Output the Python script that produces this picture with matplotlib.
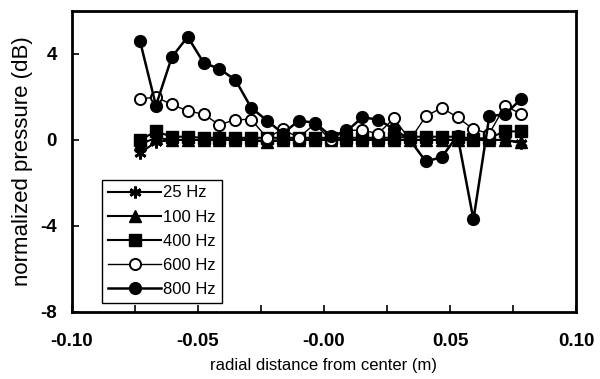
import matplotlib
matplotlib.use("Agg")
import matplotlib.pyplot as plt
import numpy as np

plt.rcParams['font.family'] = ['Liberation Sans', 'DejaVu Sans']

# radial positions (m)
x = [-0.073 + 0.0063 * k for k in range(25)]

hz25 = [-0.6, -0.1, 0.0, 0.0, 0.0, 0.0, 0.0, 0.0, -0.05, 0.0, 0.0, 0.0, 0.0,
        0.0, 0.0, 0.0, 0.0, 0.0, 0.0, 0.0, 0.0, 0.0, 0.0, 0.0, -0.15]
hz100 = [-0.2, 0.1, 0.0, 0.0, 0.0, 0.0, 0.0, 0.0, -0.1, 0.0, 0.0, 0.0, 0.0,
         0.0, 0.0, 0.0, 0.0, 0.0, 0.0, 0.0, 0.0, 0.0, 0.0, 0.0, -0.1]
hz400 = [0.0, 0.4, 0.15, 0.15, 0.1, 0.1, 0.1, 0.1, 0.1, 0.1, 0.1, 0.1, 0.1,
         0.1, 0.1, 0.1, 0.1, 0.15, 0.15, 0.15, 0.15, 0.05, 0.1, 0.4, 0.4]
hz600 = [1.9, 2.0, 1.65, 1.35, 1.2, 0.7, 0.95, 0.95, 0.1, 0.5, 0.1, 0.75, 0.0,
         0.45, 0.45, 0.3, 1.0, 0.0, 1.1, 1.5, 1.05, 0.5, 0.3, 1.6, 1.2]
hz800 = [4.6, 1.6, 3.85, 4.8, 3.6, 3.3, 2.8, 1.5, 0.9, 0.3, 0.9, 0.8, 0.2,
         0.4, 1.05, 0.95, 0.5, 0.0, -1.0, -0.8, 0.2, -3.7, 1.1, 1.2, 1.9]

labels = ['25 Hz', '100 Hz', '400 Hz', '600 Hz', '800 Hz']

fig = plt.figure(figsize=(6.0, 3.79), dpi=100)
ax = fig.add_axes([0.12, 0.177, 0.84, 0.794])

ax.plot(x, hz25, color='black', lw=1.5, marker=(6, 2, 0), ms=8.5, mew=2, label=labels[0])
ax.plot(x, hz100, color='black', lw=1.5, marker='^', ms=8.5, label=labels[1])
ax.plot(x, hz400, color='black', lw=1.5, marker='s', ms=8, label=labels[2])
ax.plot(x, hz600, color='black', lw=1.0, marker='o', ms=8, mfc='white', mew=1.4, label=labels[3])
ax.plot(x, hz800, color='black', lw=1.8, marker='o', ms=8.5, label=labels[4])

ax.set_xlim(-0.10, 0.10)
ax.set_ylim(-8, 6)
xt = np.arange(-0.10, 0.1001, 0.025)
ax.set_xticks(xt)
ax.set_xticklabels([f'{v:.2f}' if abs(round(v / 0.05) * 0.05 - v) < 1e-9 else '' for v in xt],
                   fontweight='bold')
ax.set_yticks([-8, -4, 0, 4])
ax.set_yticklabels(['-8', '-4', '0', '4'], fontweight='bold')
ax.tick_params(direction='in', length=5, width=1.2, labelsize=13.5)
ax.tick_params(axis='x', pad=15)
ax.tick_params(axis='y', pad=11)
for s in ax.spines.values():
    s.set_linewidth(2)

ax.set_xlabel('radial distance from center (m)', fontsize=12, labelpad=6)
ax.set_ylabel('normalized pressure (dB)', fontsize=16, labelpad=5)

leg = ax.legend(loc='lower left', bbox_to_anchor=(0.06, 0.03), borderaxespad=0,
                fancybox=False, edgecolor='black', framealpha=1, fontsize=12,
                handlelength=3.2, handletextpad=0.1, labelspacing=0.55, borderpad=0.35)
leg.get_frame().set_linewidth(1.0)

fig.savefig('out.png', dpi=100)
